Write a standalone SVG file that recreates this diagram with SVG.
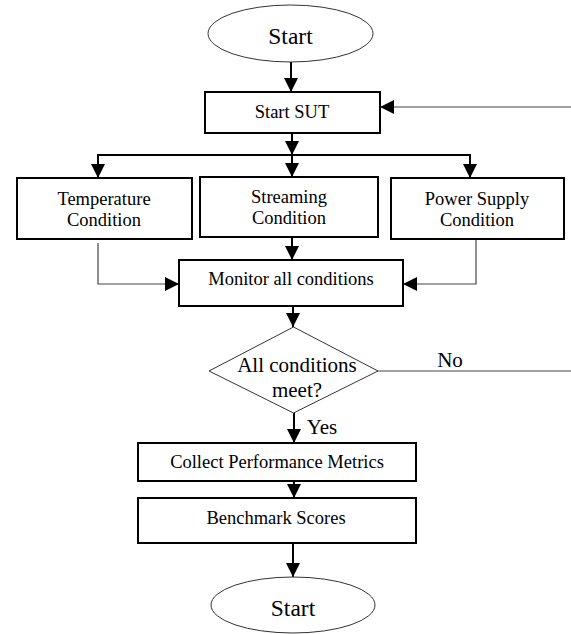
<svg xmlns="http://www.w3.org/2000/svg" width="571" height="634" viewBox="0 0 571 634">
<style>
.box{fill:#fff;stroke:#000;stroke-width:2}
.term{fill:#fff;stroke:#333;stroke-width:1}
.t{font-family:"Liberation Serif","Times New Roman",serif;font-size:18.5px;fill:#000;text-anchor:middle}
.tl{font-family:"Liberation Serif","Times New Roman",serif;font-size:21px;fill:#000;text-anchor:middle}
.ts{font-family:"Liberation Serif","Times New Roman",serif;font-size:23.5px;fill:#000;text-anchor:middle}
.thick{fill:none;stroke:#000;stroke-width:2}
.thin{fill:none;stroke:#444;stroke-width:1.2}
</style>
<defs>
<marker id="ah" viewBox="0 0 14 14" refX="14" refY="7" markerWidth="14" markerHeight="14" markerUnits="userSpaceOnUse" orient="auto">
<path d="M0,0 L14,7 L0,14 Z" fill="#000"/>
</marker>
</defs>
<g id="connectors">
<line class="thick" x1="291" y1="62" x2="291" y2="92" marker-end="url(#ah)"/>
<line class="thick" x1="292" y1="133" x2="292" y2="155" marker-end="url(#ah)"/>
<line class="thick" x1="97" y1="155" x2="471" y2="155"/>
<line class="thick" x1="98" y1="155" x2="98" y2="178" marker-end="url(#ah)"/>
<line class="thick" x1="292" y1="155" x2="292" y2="177" marker-end="url(#ah)"/>
<line class="thick" x1="470" y1="155" x2="470" y2="178" marker-end="url(#ah)"/>
<line class="thick" x1="292" y1="237" x2="292" y2="260" marker-end="url(#ah)"/>
<polyline class="thin" points="98,243 98,284 179,284" marker-end="url(#ah)"/>
<polyline class="thin" points="476,239 476,284 403,284" marker-end="url(#ah)"/>
<line class="thick" x1="293" y1="306" x2="293" y2="327" marker-end="url(#ah)"/>
<line class="thin" x1="378" y1="371" x2="571" y2="371"/>
<line class="thin" x1="571" y1="107" x2="380" y2="107" marker-end="url(#ah)"/>
<line class="thick" x1="294" y1="413" x2="294" y2="443" marker-end="url(#ah)"/>
<line class="thick" x1="294" y1="481" x2="294" y2="498" marker-end="url(#ah)"/>
<line class="thick" x1="293" y1="543" x2="293" y2="577" marker-end="url(#ah)"/>
<text class="tl" x="450" y="367">No</text>
<text class="tl" x="322" y="434">Yes</text>
</g>
<g id="start-top">
<ellipse class="term" cx="290.5" cy="33.5" rx="82.5" ry="28.5"/>
<text class="ts" x="290.5" y="44">Start</text>
</g>
<g id="start-sut">
<rect class="box" x="205" y="92" width="175" height="41"/>
<text class="t" x="292" y="118">Start SUT</text>
</g>
<g id="temperature">
<rect class="box" x="17" y="178" width="175" height="61"/>
<text class="t" x="104" y="205">Temperature</text>
<text class="t" x="104" y="226">Condition</text>
</g>
<g id="streaming">
<rect class="box" x="200" y="177" width="178" height="60"/>
<text class="t" x="289" y="203">Streaming</text>
<text class="t" x="289" y="224">Condition</text>
</g>
<g id="power">
<rect class="box" x="391" y="178" width="173" height="61"/>
<text class="t" x="477" y="205">Power Supply</text>
<text class="t" x="477" y="226">Condition</text>
</g>
<g id="monitor">
<rect class="box" x="179" y="260" width="224" height="46"/>
<text class="t" x="291" y="285">Monitor all conditions</text>
</g>
<g id="decision">
<polygon class="term" points="293.5,327 378,371 293.5,413 209,371"/>
<text class="tl" x="297" y="372">All conditions</text>
<text class="tl" x="297" y="397">meet?</text>
</g>
<g id="collect">
<rect class="box" x="138" y="443" width="278" height="38"/>
<text class="t" x="277" y="468">Collect Performance Metrics</text>
</g>
<g id="benchmark">
<rect class="box" x="138" y="498" width="278" height="45"/>
<text class="t" x="276" y="524">Benchmark Scores</text>
</g>
<g id="start-bottom">
<ellipse class="term" cx="293" cy="605" rx="82" ry="28"/>
<text class="ts" x="293" y="616">Start</text>
</g>
</svg>
